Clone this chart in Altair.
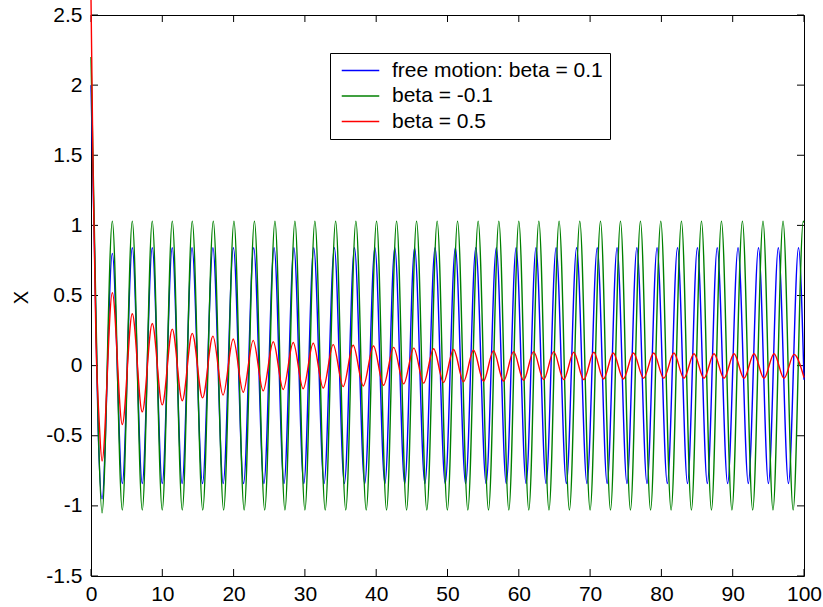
import altair as alt
import pandas as pd

# ---------------- data ----------------
x_ticks = [0, 10, 20, 30, 40, 50, 60, 70, 80, 90, 100]
y_ticks = [-1.5, -1.0, -0.5, 0.0, 0.5, 1.0, 1.5, 2.0, 2.5]

series_names = ["free motion: beta = 0.1", "beta = -0.1", "beta = 0.5"]
series_colors = ["#0000ff", "#008000", "#ff0000"]

# blue: free motion, beta = 0.1
blue_start_t = [0.0, 0.5, 1.0]
blue_start_x = [2.0, 0.8, -0.45]
blue_trough_t = [1.55, 4.39, 7.19, 9.99, 12.78, 15.64, 18.54, 21.40, 24.25, 27.07,
                 29.85, 32.69, 35.54, 38.39, 41.22, 44.00, 46.83, 49.68, 52.54, 55.41,
                 58.24, 61.02, 63.82, 66.67, 69.56, 72.39, 75.17, 77.98, 80.83, 83.66,
                 86.44, 89.29, 92.19, 95.01, 97.82]
blue_trough_x = [-0.95, -0.84, -0.84, -0.84, -0.84, -0.84, -0.84, -0.84, -0.84, -0.84,
                 -0.84, -0.84, -0.84, -0.84, -0.84, -0.84, -0.84, -0.84, -0.84, -0.84,
                 -0.84, -0.84, -0.84, -0.84, -0.84, -0.84, -0.84, -0.84, -0.84, -0.84,
                 -0.84, -0.84, -0.84, -0.84, -0.84]
blue_peak_t = [2.99, 5.79, 8.59, 11.39, 14.17, 17.10, 19.97, 22.82, 25.68, 28.46,
               31.24, 34.13, 36.95, 39.82, 42.61, 45.39, 48.26, 51.10, 53.97, 56.85,
               59.62, 62.41, 65.23, 68.11, 71.00, 73.78, 76.56, 79.39, 82.26, 85.05,
               87.83, 90.75, 93.62, 96.40, 99.23]
blue_peak_x = [0.80, 0.84, 0.84, 0.84, 0.84, 0.84, 0.84, 0.84, 0.84, 0.84,
               0.84, 0.84, 0.84, 0.84, 0.84, 0.84, 0.84, 0.84, 0.84, 0.84,
               0.84, 0.84, 0.84, 0.84, 0.84, 0.84, 0.84, 0.84, 0.84, 0.84,
               0.84, 0.84, 0.84, 0.84, 0.84]
blue_end_t = [100.0]
blue_end_x = [-0.10]

# green: beta = -0.1
green_start_t = [0.0, 0.5, 1.0]
green_start_x = [2.2, 0.9, -0.4]
green_trough_t = [1.55, 4.39, 7.19, 9.99, 12.80, 15.67, 18.60, 21.48, 24.36, 27.20,
                  30.00, 32.85, 35.73, 38.60, 41.45, 44.26, 47.10, 49.98, 52.85, 55.75,
                  58.60, 61.40, 64.23, 67.10, 70.00, 72.86, 75.66, 78.48, 81.36, 84.21,
                  87.02, 89.89, 92.80, 95.65, 98.48]
green_trough_x = [-1.05, -1.03, -1.03, -1.03, -1.03, -1.03, -1.03, -1.03, -1.03, -1.03,
                  -1.03, -1.03, -1.03, -1.03, -1.03, -1.03, -1.03, -1.03, -1.03, -1.03,
                  -1.03, -1.03, -1.03, -1.03, -1.03, -1.03, -1.03, -1.03, -1.03, -1.03,
                  -1.03, -1.03, -1.03, -1.03, -1.03]
green_peak_t = [2.99, 5.79, 8.59, 11.40, 14.20, 17.15, 20.05, 22.92, 25.80, 28.60,
                31.40, 34.31, 37.15, 40.05, 42.86, 45.66, 48.55, 51.41, 54.30, 57.20,
                60.00, 62.81, 65.65, 68.55, 71.46, 74.26, 77.06, 79.91, 82.81, 85.62,
                88.42, 91.36, 94.25, 97.06, 99.90]
green_peak_x = [1.03, 1.03, 1.03, 1.03, 1.03, 1.03, 1.03, 1.03, 1.03, 1.03,
                1.03, 1.03, 1.03, 1.03, 1.03, 1.03, 1.03, 1.03, 1.03, 1.03,
                1.03, 1.03, 1.03, 1.03, 1.03, 1.03, 1.03, 1.03, 1.03, 1.03,
                1.03, 1.03, 1.03, 1.03, 1.03]
green_end_t = [100.0]
green_end_x = [1.02]

# red: beta = 0.5
red_start_t = [0.0, 0.3, 0.7, 1.15]
red_start_x = [2.62, 1.35, 0.17, -0.40]
red_trough_t = [1.55, 4.39, 7.19, 9.99, 12.80, 15.65, 18.52, 21.35, 24.15, 26.96,
                29.76, 32.57, 35.37, 38.19, 41.03, 43.86, 46.66, 49.45, 52.25, 55.05,
                57.86, 60.67, 63.49, 66.30, 69.11, 71.88, 74.66, 77.50, 80.33, 83.16,
                85.97, 88.78, 91.59, 94.39, 97.20]
red_trough_x = [-0.68, -0.42, -0.33, -0.28, -0.25, -0.23, -0.21, -0.19, -0.18, -0.17,
                -0.165, -0.16, -0.15, -0.145, -0.14, -0.13, -0.125, -0.12, -0.115, -0.11,
                -0.11, -0.105, -0.10, -0.10, -0.10, -0.095, -0.095, -0.09, -0.09, -0.09,
                -0.09, -0.09, -0.09, -0.09, -0.09]
red_peak_t = [2.99, 5.79, 8.59, 11.40, 14.20, 17.10, 19.95, 22.75, 25.56, 28.36,
              31.17, 33.97, 36.77, 39.62, 42.45, 45.28, 48.05, 50.85, 53.65, 56.45,
              59.27, 62.08, 64.90, 67.71, 70.52, 73.25, 76.08, 78.92, 81.75, 84.57,
              87.38, 90.19, 92.99, 95.80, 98.60]
red_peak_x = [0.52, 0.37, 0.30, 0.26, 0.23, 0.21, 0.19, 0.18, 0.17, 0.165,
              0.16, 0.15, 0.145, 0.14, 0.13, 0.125, 0.12, 0.115, 0.11, 0.105,
              0.10, 0.10, 0.10, 0.095, 0.095, 0.09, 0.09, 0.09, 0.09, 0.085,
              0.085, 0.085, 0.085, 0.085, 0.08]
red_end_t = [100.0]
red_end_x = [-0.085]


def build(name, st, sx, tt, tx, pt, px, et, ex):
    ts, xs = list(st), list(sx)
    for a, b, c, d in zip(tt, tx, pt, px):
        ts += [a, c]
        xs += [b, d]
    ts += et
    xs += ex
    return pd.DataFrame({"t": ts, "x": xs, "series": name})


blue_df = build(series_names[0], blue_start_t, blue_start_x, blue_trough_t, blue_trough_x,
                blue_peak_t, blue_peak_x, blue_end_t, blue_end_x)
green_df = build(series_names[1], green_start_t, green_start_x, green_trough_t, green_trough_x,
                 green_peak_t, green_peak_x, green_end_t, green_end_x)
red_df = build(series_names[2], red_start_t, red_start_x, red_trough_t, red_trough_x,
               red_peak_t, red_peak_x, red_end_t, red_end_x)

# ---------------- styling ----------------
W, H = 713, 561
TICK = 7
FONT = "Liberation Sans"

xscale = alt.Scale(domain=[0, 100], nice=False, zero=False)
yscale = alt.Scale(domain=[-1.5, 2.5], nice=False, zero=False)
cscale = alt.Scale(domain=series_names, range=series_colors)

x_axis = alt.Axis(values=x_ticks, labelExpr="'' + datum.value", ticks=False, domain=False,
                  grid=False, labelFont=FONT, labelFontSize=21, labelColor="black",
                  labelPadding=7, labelFlush=False, labelOverlap=False, title="")
y_axis = alt.Axis(values=y_ticks, labelExpr="'' + datum.value", ticks=False, domain=False,
                  grid=False, labelFont=FONT, labelFontSize=21, labelColor="black",
                  labelPadding=9, labelFlush=False, labelOverlap=False,
                  title="X", titleFont=FONT, titleFontSize=20, titleFontWeight="normal",
                  titleColor="black", titleX=-70, titleY=282, titleAngle=270,
                  titleAlign="center", titleBaseline="middle")

legend = alt.Legend(title=None, orient="none", legendX=239, legendY=38, direction="vertical",
                    strokeColor="black", fillColor="white", padding=7,
                    symbolType="M-4,0H4", symbolSize=88, symbolStrokeWidth=1.5,
                    symbolOffset=13, labelOffset=21, labelFont=FONT, labelFontSize=21,
                    labelColor="black", labelLimit=400, rowPadding=3.5, cornerRadius=0)


def line_layer(df):
    return alt.Chart(df).mark_line(interpolate="monotone", strokeWidth=1.4).encode(
        x=alt.X("t:Q", scale=xscale, axis=x_axis),
        y=alt.Y("x:Q", scale=yscale, axis=y_axis),
        color=alt.Color("series:N", scale=cscale, legend=legend),
    )


xt = pd.DataFrame({"t": x_ticks})
yt = pd.DataFrame({"x": y_ticks})

tick_bottom = alt.Chart(xt).mark_rule(color="black", strokeWidth=1).encode(
    x=alt.X("t:Q", scale=xscale, axis=x_axis), y=alt.value(H), y2=alt.value(H - TICK))
tick_top = alt.Chart(xt).mark_rule(color="black", strokeWidth=1).encode(
    x=alt.X("t:Q", scale=xscale, axis=x_axis), y=alt.value(0), y2=alt.value(TICK))
tick_left = alt.Chart(yt).mark_rule(color="black", strokeWidth=1).encode(
    y=alt.Y("x:Q", scale=yscale, axis=y_axis), x=alt.value(0), x2=alt.value(TICK))
tick_right = alt.Chart(yt).mark_rule(color="black", strokeWidth=1).encode(
    y=alt.Y("x:Q", scale=yscale, axis=y_axis), x=alt.value(W), x2=alt.value(W - TICK))

chart = alt.layer(
    tick_bottom, tick_top, tick_left, tick_right,
    line_layer(blue_df), line_layer(green_df), line_layer(red_df),
).properties(
    width=W, height=H,
    padding={"left": 91, "top": 15, "right": 19, "bottom": 31},
    autosize=alt.AutoSizeParams(type="none"),
).configure(
    background="white",
).configure_view(
    stroke="black", strokeWidth=1,
)

chart.save("out.html", embed_options={"renderer": "svg", "actions": False})
